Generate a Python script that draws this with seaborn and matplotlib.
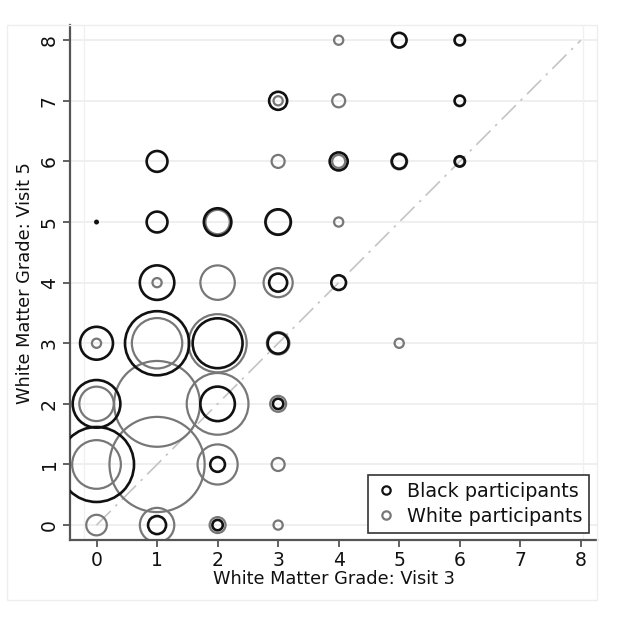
import pandas as pd
import numpy as np
import matplotlib.pyplot as plt
import seaborn as sns
from matplotlib.lines import Line2D
from matplotlib.patches import Rectangle

# Black participants: (visit 3 grade, visit 5 grade, count)
black_v3 = [0, 0, 0, 0, 1, 1, 1, 1, 1, 2, 2, 2, 2, 2, 3, 3, 3, 3, 3, 4, 4, 5, 5, 6, 6, 6]
black_v5 = [1, 2, 3, 5, 0, 3, 4, 5, 6, 0, 1, 2, 3, 5, 2, 3, 4, 5, 7, 4, 6, 6, 8, 6, 7, 8]
black_n = [52, 21, 10, 0.05, 3, 38, 11, 4, 4, 1, 2, 11, 23, 7, 1, 4, 3, 6, 3, 2, 3, 2, 2, 1, 1, 1]

# White participants
white_v3 = [0, 0, 0, 0, 1, 1, 1, 1, 1, 2, 2, 2, 2, 2, 2, 3, 3, 3, 3, 3, 3, 3, 3, 4, 4, 4, 4, 5, 5, 6]
white_v5 = [0, 1, 2, 3, 0, 1, 2, 3, 4, 0, 1, 2, 3, 4, 5, 0, 1, 2, 3, 4, 5, 6, 7, 5, 6, 7, 8, 3, 6, 6]
white_n = [5, 28, 14, 1, 14, 107, 87, 30, 1, 3, 19, 45, 40, 14, 7, 1, 2, 3, 6, 10, 7, 2, 1, 1, 2, 2, 1, 1, 3, 1]

black = pd.DataFrame({"v3": black_v3, "v5": black_v5, "n": black_n})
white = pd.DataFrame({"v3": white_v3, "v5": white_v5, "n": white_n})

BLACK = "#111111"
GRAY = "#777777"

sns.set_theme(style="white")
plt.rcParams["font.family"] = ["DejaVu Sans"]

fig = plt.figure(figsize=(6.24, 6.26), dpi=100)
ax = fig.add_axes([0.112, 0.137, 0.845, 0.823])

# faint outer frame (graph region)
fig.patches.append(Rectangle((7 / 624, 1 - 600 / 626), 590 / 624, 575 / 626,
                             transform=fig.transFigure, fill=False,
                             edgecolor="#eeeeee", linewidth=1))

# grid + plot region lines
for yv in range(9):
    ax.axhline(yv, color="#ececec", linewidth=1.2, zorder=0)
ax.axvline(-0.2, color="#f0f0f0", linewidth=1, zorder=0)
ax.axvline(8.04, color="#f0f0f0", linewidth=1, zorder=0)

# line of equality
ax.plot([0, 8], [0, 8], color="#c4c4c4", linewidth=1.2,
        dashes=[12, 4, 1.5, 4], zorder=1)

# area proportional to count (scaled per group)
w_unit = (1.44 * 4.6) ** 2
b_unit = (1.44 * 5.2) ** 2
wmax = white["n"].max()
bmax = black["n"].max()

sns.scatterplot(data=white, x="v3", y="v5", size="n", sizes=(0, w_unit * wmax),
                size_norm=(0, wmax), facecolors="none", edgecolors=GRAY,
                linewidth=1.6, legend=False, ax=ax, zorder=2)
sns.scatterplot(data=black, x="v3", y="v5", size="n", sizes=(0, b_unit * bmax),
                size_norm=(0, bmax), facecolors="none", edgecolors=BLACK,
                linewidth=1.9, legend=False, ax=ax, zorder=3)

ax.set_xlim(-0.44, 8.27)
ax.set_ylim(-0.25, 8.25)
ax.set_xticks(range(9))
ax.set_yticks(range(9))
ax.tick_params(axis="both", which="both", direction="out", length=5, width=1.3,
               color="#555555", labelsize=13.5, pad=3, left=True, bottom=True,
               labelcolor="#111111")
for lab in ax.get_yticklabels():
    lab.set_rotation(90)
    lab.set_va("center")

for side in ["top", "right"]:
    ax.spines[side].set_visible(False)
for side in ["left", "bottom"]:
    ax.spines[side].set_color("#555555")
    ax.spines[side].set_linewidth(1.6)

ax.set_xlabel("White Matter Grade: Visit 3", fontsize=12.8, labelpad=0, color="#111111")
ax.set_ylabel("White Matter Grade: Visit 5", fontsize=12.8, labelpad=4, color="#111111")

handles = [
    Line2D([], [], marker="o", linestyle="none", markerfacecolor="none",
           markeredgecolor=BLACK, markersize=6, markeredgewidth=1.6),
    Line2D([], [], marker="o", linestyle="none", markerfacecolor="none",
           markeredgecolor=GRAY, markersize=6, markeredgewidth=1.6),
]
leg = ax.legend(handles, ["Black participants", "White participants"],
                loc="lower right", bbox_to_anchor=(0.985, 0.015), borderaxespad=0,
                fontsize=13.8, frameon=True, fancybox=False, handletextpad=0.5,
                handlelength=1.2, borderpad=0.35, labelspacing=0.3)
leg.get_frame().set_edgecolor("#333333")
leg.get_frame().set_linewidth(1.2)
leg.get_frame().set_alpha(1)
for t in leg.get_texts():
    t.set_color("#111111")

fig.savefig("out.png", dpi=100, facecolor="white")
